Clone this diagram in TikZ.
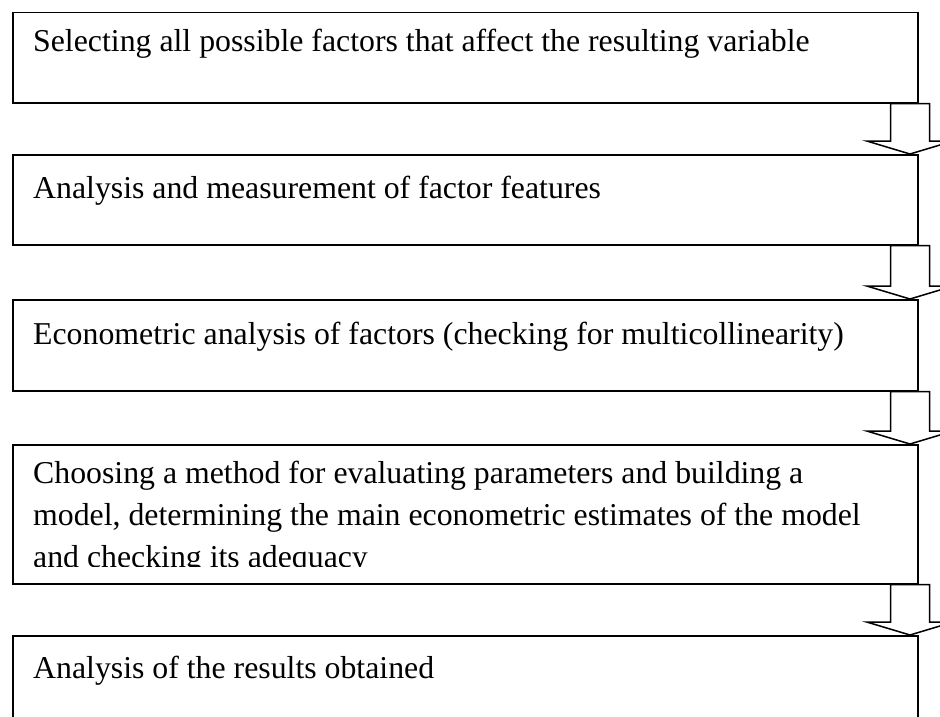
\documentclass[tikz,border=0pt]{standalone}
\usepackage{fontspec}
\setmainfont{Liberation Serif}
\usetikzlibrary{calc}

\begin{document}
\begin{tikzpicture}[x=1pt, y=-1pt,
  stepbox/.style={draw, line width=1.5pt, minimum width=905pt, inner sep=0pt, anchor=north west},
  steptext/.style={inner sep=0pt, anchor=base west, align=left, font=\fontsize{31.8}{42}\selectfont},
  blockarrow/.style={draw, line width=1.5pt, fill=white, line join=miter}]

\clip (0,0) rectangle (940,717);

% the five boxes, top to bottom
\node [stepbox, minimum height=90pt] (b1) at (12,12) {};
\node [stepbox, minimum height=90pt] (b2) at (12,154) {};
\node [stepbox, minimum height=91pt] (b3) at (12,299) {};
\node [stepbox, minimum height=139pt] (b4) at (12,444) {};
\node [stepbox, minimum height=125pt] (b5) at (12,635) {};

\node [steptext] (t1) at ($(b1.north west)+(21,40)$) {Selecting all possible factors that affect the resulting variable};
\node [steptext] (t2) at ($(b2.north west)+(21,44)$) {Analysis and measurement of factor features};
\node [steptext] (t3) at ($(b3.north west)+(21,45)$) {Econometric analysis of factors (checking for multicollinearity)};
% base of a multi-line node is its last line, the bottom of which is cut off
\begin{scope}
\clip (b4.north west) rectangle ($(b4.south east)+(0,-18)$);
\node [steptext] (t4) at ($(b4.north west)+(21,123)$) {Choosing a method for evaluating parameters and building a\\model, determining the main econometric estimates of the model\\and checking its adequacy};
\end{scope}
\node [steptext] (t5) at ($(b5.north west)+(21,43)$) {Analysis of the results obtained};

% hollow arrows on the right edge
\coordinate (ax) at (910,0);

\draw [blockarrow] ($(b1.south -| ax)+(-19.5,0)$) -- ($(b2.north -| ax)+(-19.5,-13)$) -- ++(-23.8,0) -- (b2.north -| ax) -- ++(43.3,-13) -- ++(-23.8,0) -- ($(b1.south -| ax)+(19.5,0)$) -- cycle;
\draw [blockarrow] ($(b2.south -| ax)+(-19.5,0)$) -- ($(b3.north -| ax)+(-19.5,-13)$) -- ++(-23.8,0) -- (b3.north -| ax) -- ++(43.3,-13) -- ++(-23.8,0) -- ($(b2.south -| ax)+(19.5,0)$) -- cycle;
\draw [blockarrow] ($(b3.south -| ax)+(-19.5,0)$) -- ($(b4.north -| ax)+(-19.5,-13)$) -- ++(-23.8,0) -- (b4.north -| ax) -- ++(43.3,-13) -- ++(-23.8,0) -- ($(b3.south -| ax)+(19.5,0)$) -- cycle;
\draw [blockarrow] ($(b4.south -| ax)+(-19.5,0)$) -- ($(b5.north -| ax)+(-19.5,-13)$) -- ++(-23.8,0) -- (b5.north -| ax) -- ++(43.3,-13) -- ++(-23.8,0) -- ($(b4.south -| ax)+(19.5,0)$) -- cycle;

\end{tikzpicture}
\end{document}
